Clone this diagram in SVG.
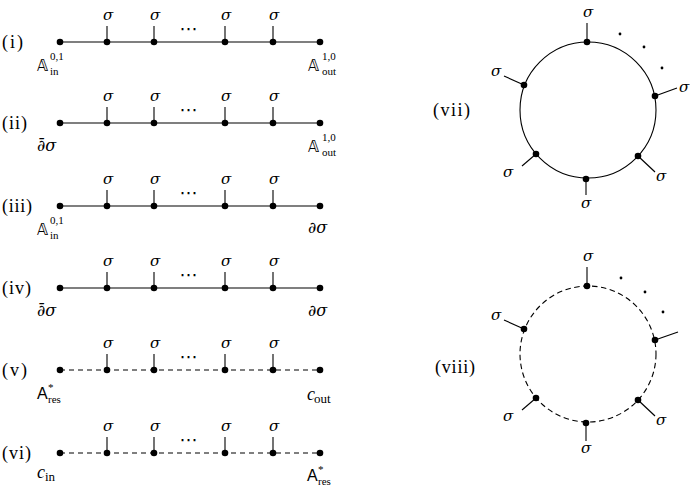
<svg xmlns="http://www.w3.org/2000/svg" xmlns:xlink="http://www.w3.org/1999/xlink" width="690" height="491" viewBox="0 0 690 491">
<style>
.ln{stroke:#000;stroke-width:1.1;fill:none}
.dash{stroke-dasharray:5 4}
.cd{stroke-dasharray:5.5 3.5}
.dot{fill:#000}
.sg{font-family:"DejaVu Serif",serif;font-style:italic;font-size:15px;text-anchor:middle}
.rl{font-family:"Liberation Serif","DejaVu Serif",serif;font-size:18px}
.bl{font-family:"DejaVu Sans","Noto Sans",sans-serif;font-size:15px}
.sc{font-family:"Liberation Serif","DejaVu Serif",serif;font-size:11px}
.it{font-family:"DejaVu Serif",serif;font-style:italic;font-size:16px}
.ci{font-family:"Liberation Serif","DejaVu Serif",serif;font-style:italic;font-size:18px}
.sa{font-family:"Liberation Sans",sans-serif;font-size:16px}
.el{font-family:"DejaVu Sans",sans-serif;font-size:18px;text-anchor:middle;letter-spacing:1px}
</style>
<defs>
<circle id="nd" r="3.3" class="dot"/>
<circle id="sd" r="1.4" class="dot"/>
<g id="inner"><line class="ln" x1="0" y1="-16" x2="0" y2="0"/><use xlink:href="#nd"/><text class="sg" x="1" y="-22">σ</text></g>
</defs>

<!-- connectors -->
<g id="connectors">
<line class="ln" x1="60" y1="42" x2="320" y2="42"/>
<line class="ln" x1="60" y1="123" x2="320" y2="123"/>
<line class="ln" x1="60" y1="206" x2="320" y2="206"/>
<line class="ln" x1="60" y1="288" x2="320" y2="288"/>
<line class="ln dash" x1="60" y1="370" x2="320" y2="370"/>
<line class="ln dash" x1="60" y1="453" x2="320" y2="453"/>
<circle class="ln" cx="588" cy="110" r="68"/>
<circle class="ln cd" cx="588" cy="354" r="68"/>
</g>

<!-- row labels -->
<g id="labels">
<text class="rl" x="2" y="48" textLength="21">(i)</text>
<text class="rl" x="2" y="129" textLength="25">(ii)</text>
<text class="rl" x="2" y="212" textLength="30">(iii)</text>
<text class="rl" x="2" y="294" textLength="29">(iv)</text>
<text class="rl" x="2" y="376" textLength="25">(v)</text>
<text class="rl" x="2" y="459" textLength="29">(vi)</text>
<text class="rl" x="433" y="116" textLength="37">(vii)</text>
<text class="rl" x="435" y="373" textLength="40">(viii)</text>
</g>

<!-- row (i) -->
<g id="r1">
<g id="r1n0"><use xlink:href="#nd" x="60" y="42"/>
<text class="bl" x="37" y="71">𝔸</text><text class="sc" x="50" y="60">0,1</text><text class="sc" x="50" y="75">in</text></g>
<g id="r1n1"><use xlink:href="#inner" x="107" y="42"/></g>
<g id="r1n2"><use xlink:href="#inner" x="154" y="42"/></g>
<text class="el" x="189" y="35">⋯</text>
<g id="r1n3"><use xlink:href="#inner" x="225" y="42"/></g>
<g id="r1n4"><use xlink:href="#inner" x="273" y="42"/></g>
<g id="r1n5"><use xlink:href="#nd" x="320" y="42"/>
<text class="bl" x="308" y="71">𝔸</text><text class="sc" x="322" y="60">1,0</text><text class="sc" x="322" y="75">out</text></g>
</g>

<!-- row (ii) -->
<g id="r2">
<g id="r2n0"><use xlink:href="#nd" x="60" y="123"/>
<text class="it" x="37" y="151">∂̄σ</text></g>
<g id="r2n1"><use xlink:href="#inner" x="107" y="123"/></g>
<g id="r2n2"><use xlink:href="#inner" x="154" y="123"/></g>
<text class="el" x="189" y="116">⋯</text>
<g id="r2n3"><use xlink:href="#inner" x="225" y="123"/></g>
<g id="r2n4"><use xlink:href="#inner" x="273" y="123"/></g>
<g id="r2n5"><use xlink:href="#nd" x="320" y="123"/>
<text class="bl" x="308" y="152">𝔸</text><text class="sc" x="322" y="141">1,0</text><text class="sc" x="322" y="156">out</text></g>
</g>

<!-- row (iii) -->
<g id="r3">
<g id="r3n0"><use xlink:href="#nd" x="60" y="206"/>
<text class="bl" x="37" y="235">𝔸</text><text class="sc" x="50" y="224">0,1</text><text class="sc" x="50" y="239">in</text></g>
<g id="r3n1"><use xlink:href="#inner" x="107" y="206"/></g>
<g id="r3n2"><use xlink:href="#inner" x="154" y="206"/></g>
<text class="el" x="189" y="199">⋯</text>
<g id="r3n3"><use xlink:href="#inner" x="225" y="206"/></g>
<g id="r3n4"><use xlink:href="#inner" x="273" y="206"/></g>
<g id="r3n5"><use xlink:href="#nd" x="320" y="206"/>
<text class="it" x="308" y="233">∂σ</text></g>
</g>

<!-- row (iv) -->
<g id="r4">
<g id="r4n0"><use xlink:href="#nd" x="60" y="288"/>
<text class="it" x="37" y="316">∂̄σ</text></g>
<g id="r4n1"><use xlink:href="#inner" x="107" y="288"/></g>
<g id="r4n2"><use xlink:href="#inner" x="154" y="288"/></g>
<text class="el" x="189" y="281">⋯</text>
<g id="r4n3"><use xlink:href="#inner" x="225" y="288"/></g>
<g id="r4n4"><use xlink:href="#inner" x="273" y="288"/></g>
<g id="r4n5"><use xlink:href="#nd" x="320" y="288"/>
<text class="it" x="308" y="316">∂σ</text></g>
</g>

<!-- row (v) -->
<g id="r5">
<g id="r5n0"><use xlink:href="#nd" x="60" y="370"/>
<text class="sa" x="37" y="399">A</text><text class="sc" x="48" y="391">*</text><text class="sc" x="48" y="403">res</text></g>
<g id="r5n1"><use xlink:href="#inner" x="107" y="370"/></g>
<g id="r5n2"><use xlink:href="#inner" x="154" y="370"/></g>
<text class="el" x="189" y="363">⋯</text>
<g id="r5n3"><use xlink:href="#inner" x="225" y="370"/></g>
<g id="r5n4"><use xlink:href="#inner" x="273" y="370"/></g>
<g id="r5n5"><use xlink:href="#nd" x="320" y="370"/>
<text class="ci" x="307" y="400">c</text><text class="sc" x="314" y="403" style="font-size:13px">out</text></g>
</g>

<!-- row (vi) -->
<g id="r6">
<g id="r6n0"><use xlink:href="#nd" x="60" y="453"/>
<text class="ci" x="37" y="478">c</text><text class="sc" x="45" y="481" style="font-size:13px">in</text></g>
<g id="r6n1"><use xlink:href="#inner" x="107" y="453"/></g>
<g id="r6n2"><use xlink:href="#inner" x="154" y="453"/></g>
<text class="el" x="189" y="446">⋯</text>
<g id="r6n3"><use xlink:href="#inner" x="225" y="453"/></g>
<g id="r6n4"><use xlink:href="#inner" x="273" y="453"/></g>
<g id="r6n5"><use xlink:href="#nd" x="320" y="453"/>
<text class="sa" x="307" y="481">A</text><text class="sc" x="318" y="473">*</text><text class="sc" x="318" y="485">res</text></g>
</g>

<!-- (vii) -->
<g id="c7">
<g id="c7n0"><line class="ln" x1="587" y1="42" x2="587" y2="23"/><use xlink:href="#nd" x="587" y="42"/><text class="sg" x="588" y="17">σ</text></g>
<g id="c7n1"><line class="ln" x1="655" y1="96" x2="677" y2="88"/><use xlink:href="#nd" x="655" y="96"/><text class="sg" x="684" y="92">σ</text></g>
<g id="c7n2"><line class="ln" x1="638" y1="156" x2="655" y2="172"/><use xlink:href="#nd" x="638" y="156"/><text class="sg" x="661" y="181">σ</text></g>
<g id="c7n3"><line class="ln" x1="586" y1="179" x2="586" y2="195"/><use xlink:href="#nd" x="586" y="179"/><text class="sg" x="586" y="208">σ</text></g>
<g id="c7n4"><line class="ln" x1="536" y1="154" x2="522" y2="166"/><use xlink:href="#nd" x="536" y="154"/><text class="sg" x="508" y="177">σ</text></g>
<g id="c7n5"><line class="ln" x1="524" y1="85" x2="504" y2="76"/><use xlink:href="#nd" x="524" y="85"/><text class="sg" x="496" y="76">σ</text></g>
<use xlink:href="#sd" x="620" y="34"/><use xlink:href="#sd" x="644" y="47"/><use xlink:href="#sd" x="662" y="68"/>
</g>

<!-- (viii) -->
<g id="c8">
<g id="c8n0"><line class="ln" x1="587" y1="286" x2="587" y2="267"/><use xlink:href="#nd" x="587" y="286"/><text class="sg" x="588" y="261">σ</text></g>
<g id="c8n1"><line class="ln" x1="655" y1="340" x2="678" y2="332"/><use xlink:href="#nd" x="655" y="340"/></g>
<g id="c8n2"><line class="ln" x1="638" y1="400" x2="655" y2="416"/><use xlink:href="#nd" x="638" y="400"/><text class="sg" x="661" y="425">σ</text></g>
<g id="c8n3"><line class="ln" x1="586" y1="423" x2="586" y2="441"/><use xlink:href="#nd" x="586" y="423"/><text class="sg" x="586" y="453">σ</text></g>
<g id="c8n4"><line class="ln" x1="536" y1="398" x2="522" y2="410"/><use xlink:href="#nd" x="536" y="398"/><text class="sg" x="508" y="421">σ</text></g>
<g id="c8n5"><line class="ln" x1="524" y1="329" x2="504" y2="320"/><use xlink:href="#nd" x="524" y="329"/><text class="sg" x="496" y="320">σ</text></g>
<use xlink:href="#sd" x="621" y="278"/><use xlink:href="#sd" x="645" y="292"/><use xlink:href="#sd" x="663" y="312"/>
</g>
</svg>
